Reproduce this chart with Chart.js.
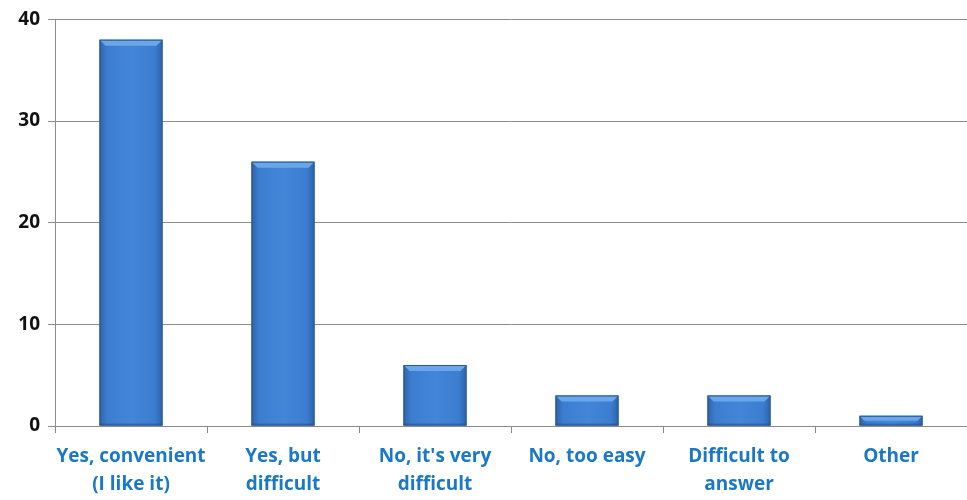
<!DOCTYPE html>
<html>
<head>
<meta charset="utf-8">
<script src="https://cdn.jsdelivr.net/npm/chart.js@4"></script>
<style>
  html, body { margin: 0; padding: 0; background: #fff; }
  #wrap { width: 967px; height: 500px; }
</style>
</head>
<body>
<div id="wrap"><canvas id="answersChart"></canvas></div>
<script>
// 类别和数值
const categories = [
    ['Yes, convenient', '(I like it)'],
    ['Yes, but', 'difficult'],
    ["No, it's very", 'difficult'],
    'No, too easy',
    ['Difficult to', 'answer'],
    'Other'
];
const answerCounts = [38, 26, 6, 3, 3, 1];
const yTicks = [0, 10, 20, 30, 40];

// 给柱子加一点立体效果（渐变 + 顶部斜面）
const bevelPlugin = {
    id: 'bevel',
    afterDatasetsDraw(chart) {
        const ctx = chart.ctx;
        const meta = chart.getDatasetMeta(0);
        meta.data.forEach(bar => {
            const w = bar.width;
            const left = bar.x - w / 2;
            const top = bar.y;
            const h = bar.base - bar.y;
            const g = ctx.createLinearGradient(left, 0, left + w, 0);
            g.addColorStop(0, '#2d63a8');
            g.addColorStop(0.12, '#3c7dd0');
            g.addColorStop(0.5, '#4386d8');
            g.addColorStop(0.88, '#3c7dd0');
            g.addColorStop(1, '#2d63a8');
            ctx.save();
            ctx.fillStyle = g;
            ctx.fillRect(left, top, w, h);
            // 顶部斜面
            const b = Math.min(6, h / 2);
            ctx.fillStyle = '#6aa6ea';
            ctx.beginPath();
            ctx.moveTo(left, top);
            ctx.lineTo(left + w, top);
            ctx.lineTo(left + w - b, top + b);
            ctx.lineTo(left + b, top + b);
            ctx.closePath();
            ctx.fill();
            // 底部暗边
            ctx.fillStyle = 'rgba(30,60,110,0.35)';
            ctx.fillRect(left, bar.base - 2, w, 2);
            ctx.strokeStyle = '#2a5a98';
            ctx.lineWidth = 1;
            ctx.strokeRect(left + 0.5, top + 0.5, w - 1, h - 1);
            ctx.restore();
        });
    }
};

const ctx = document.getElementById('answersChart').getContext('2d');
new Chart(ctx, {
    type: 'bar',
    data: {
        labels: categories,
        datasets: [{
            data: answerCounts,
            backgroundColor: '#3c7dd0',
            categoryPercentage: 0.82,
            barPercentage: 0.505
        }]
    },
    options: {
        responsive: true,
        maintainAspectRatio: false,
        animation: false,
        layout: { padding: { top: 8, right: 0, left: 0, bottom: 0 } },
        plugins: {
            legend: { display: false },
            tooltip: { enabled: false }
        },
        scales: {
            x: {
                grid: {
                    display: true,
                    drawOnChartArea: false,
                    drawTicks: true,
                    tickLength: 7,
                    color: '#888'
                },
                border: { color: '#888' },
                ticks: {
                    color: '#1a78c8',
                    font: { family: 'Open Sans', size: 19, weight: 'bold', lineHeight: 1.47 },
                    padding: 10,
                    maxRotation: 0,
                    autoSkip: false
                },
                afterFit(scale) { scale.height = 74; }
            },
            y: {
                min: 0,
                max: 40,
                afterBuildTicks(scale) {
                    scale.ticks = yTicks.map(v => ({ value: v }));
                },
                grid: {
                    color: '#8c8c8c',
                    tickLength: 7
                },
                border: { color: '#8c8c8c' },
                ticks: {
                    color: '#111',
                    font: { family: 'Open Sans', size: 19, weight: 'bold' },
                    padding: 8
                },
                afterFit(scale) { scale.width = 55; }
            }
        }
    },
    plugins: [bevelPlugin]
});
</script>
</body>
</html>
